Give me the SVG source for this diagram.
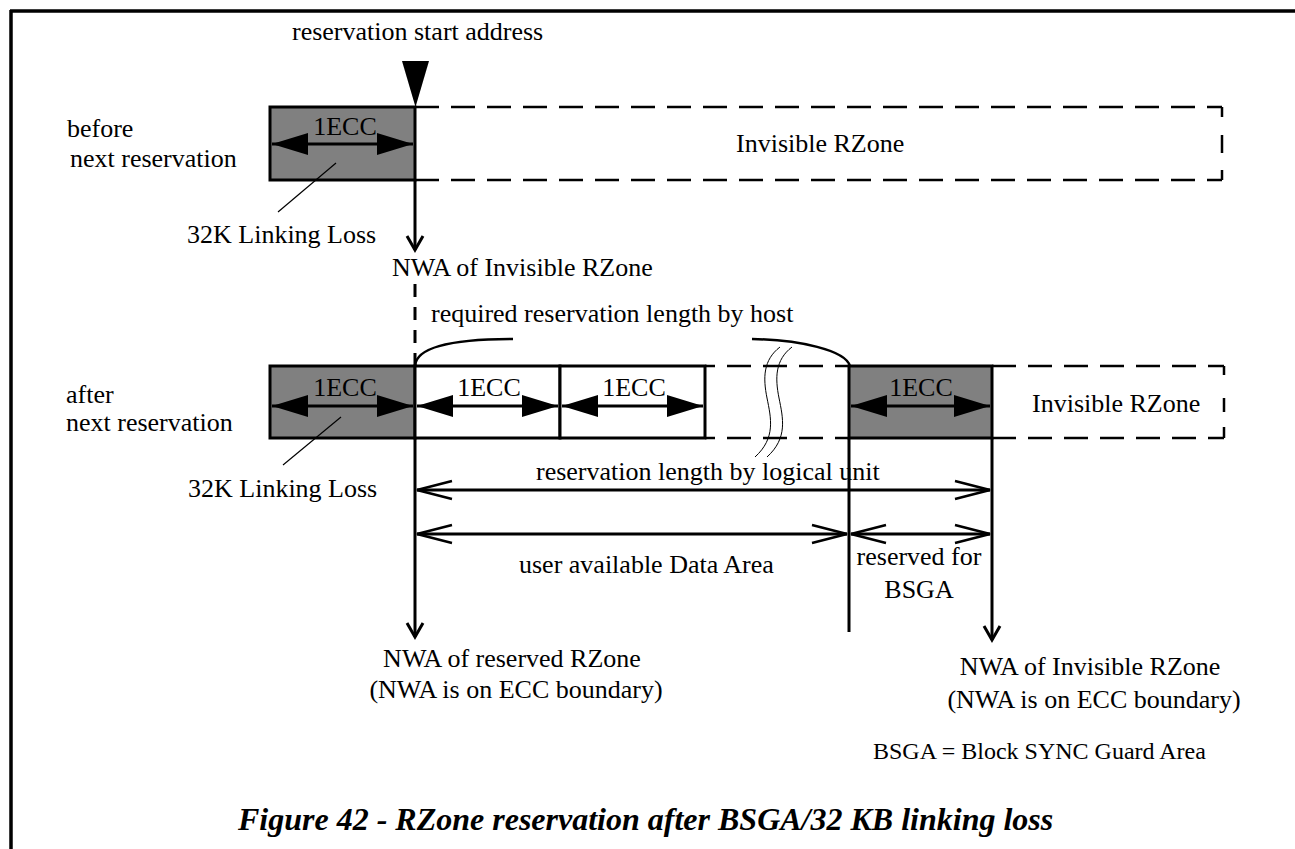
<svg xmlns="http://www.w3.org/2000/svg" width="1295" height="849" viewBox="0 0 1295 849">
<style>
text{font-family:"Liberation Serif","Times New Roman",Times,serif;font-size:26px;fill:#000}
.cap{font-size:32px;font-weight:bold;font-style:italic}
.small{font-size:24px}
.gray{fill:#808080;stroke:#000;stroke-width:3}
.white{fill:#fff;stroke:#000;stroke-width:3}
.dash{fill:none;stroke:#000;stroke-width:2.5;stroke-dasharray:24 12}
.vdash{fill:none;stroke:#000;stroke-width:3;stroke-dasharray:13 10}
.ln{fill:none;stroke:#000;stroke-width:3}
.edge{fill:none;stroke:#000;stroke-width:2.5}
.thin{fill:none;stroke:#000;stroke-width:1.2}
.ecc{fill:none;stroke:#000;stroke-width:3;marker-start:url(#fa);marker-end:url(#fa)}
.dim{fill:none;stroke:#000;stroke-width:3;marker-start:url(#oa);marker-end:url(#oa)}
.down{fill:none;stroke:#000;stroke-width:3;marker-end:url(#va)}
</style>
<defs>
<marker id="fa" markerUnits="userSpaceOnUse" viewBox="0 0 36 22" markerWidth="36" markerHeight="22" refX="36" refY="11" orient="auto-start-reverse">
<path d="M0,0 L36,11 L0,22 Z" fill="#000"/>
</marker>
<marker id="oa" markerUnits="userSpaceOnUse" viewBox="-2 -2 40 24" markerWidth="40" markerHeight="24" refX="35" refY="10" orient="auto-start-reverse" overflow="visible">
<path d="M0,1 L35,10 L0,19" fill="none" stroke="#000" stroke-width="2.5"/>
</marker>
<marker id="va" markerUnits="userSpaceOnUse" viewBox="-2 -2 18 20" markerWidth="18" markerHeight="20" refX="14" refY="8" orient="auto" overflow="visible">
<path d="M0,0 L14,8 L0,16" fill="none" stroke="#000" stroke-width="3"/>
</marker>
</defs>

<g id="frame">
<path d="M10,11 H1295 M11,10 V849" fill="none" stroke="#000" stroke-width="3.5"/>
</g>

<g id="start-marker">
<text x="292" y="40">reservation start address</text>
<polygon points="402,61 429,61 415.5,107" fill="#000"/>
</g>

<g id="row1-label">
<text x="67" y="137">before</text>
<text x="70" y="167">next reservation</text>
</g>

<g id="row1-ecc">
<rect class="gray" x="270" y="107" width="145" height="73"/>
<line class="ecc" x1="272" y1="144" x2="413" y2="144"/>
<text x="345" y="135" text-anchor="middle">1ECC</text>
</g>

<g id="row1-invisible">
<path class="dash" d="M415,107 H1222 M415,180 H1222"/>
<path class="edge" d="M1222,107 V117 M1222,135 V153 M1222,170 V180"/>
<text x="736" y="152">Invisible RZone</text>
</g>

<g id="row1-loss">
<line class="thin" x1="336" y1="163" x2="278" y2="212"/>
<text x="187" y="243">32K Linking Loss</text>
</g>

<g id="row1-nwa">
<text x="392" y="276">NWA of Invisible RZone</text>
</g>

<g id="host-length">
<text x="431" y="322">required reservation length by host</text>
<path class="ln" d="M415,366 C416,348 450,339 513,339" style="stroke-width:2.5"/>
<path class="ln" d="M752,339 C800,340 845,350 850,366" style="stroke-width:2.5"/>
</g>

<g id="row2-label">
<text x="66" y="403">after</text>
<text x="66" y="431">next reservation</text>
</g>

<g id="row2-ecc1">
<rect class="gray" x="270" y="366" width="145" height="72"/>
<line class="ecc" x1="272" y1="406" x2="413" y2="406"/>
<text x="345" y="396" text-anchor="middle">1ECC</text>
</g>

<g id="row2-ecc2">
<rect class="white" x="415" y="366" width="145" height="72"/>
<line class="ecc" x1="417" y1="406" x2="558" y2="406"/>
<text x="489" y="396" text-anchor="middle">1ECC</text>
</g>

<g id="row2-ecc3">
<rect class="white" x="560" y="366" width="145" height="72"/>
<line class="ecc" x1="562" y1="406" x2="703" y2="406"/>
<text x="634" y="396" text-anchor="middle">1ECC</text>
</g>

<g id="row2-gap">
<path class="dash" d="M705,366 H849 M705,438 H849" style="stroke-dashoffset:14"/>
<path class="thin" style="stroke-width:1" d="M780,347 C763,360 763,378 767,398 C771,418 776,438 755,457"/>
<path class="thin" style="stroke-width:1" d="M792,347 C775,360 775,378 779,398 C783,418 788,438 767,457"/>
</g>

<g id="row2-ecc4">
<rect class="gray" x="849" y="366" width="143" height="72"/>
<line class="ecc" x1="851" y1="406" x2="990" y2="406"/>
<text x="921" y="396" text-anchor="middle">1ECC</text>
</g>

<g id="row2-invisible">
<path class="dash" d="M992,366 H1224 M992,438 H1224"/>
<path class="edge" d="M1224,366 V375 M1224,398 V412 M1224,427 V438"/>
<text x="1032" y="412">Invisible RZone</text>
</g>

<g id="row2-loss">
<line class="thin" x1="341" y1="417" x2="283" y2="465"/>
<text x="188" y="497">32K Linking Loss</text>
</g>

<g id="labels">
<text x="536" y="480">reservation length by logical unit</text>
<text x="519" y="573">user available Data Area</text>
<text x="919" y="565" text-anchor="middle">reserved for</text>
<text x="919" y="598" text-anchor="middle">BSGA</text>
<text x="512" y="667" text-anchor="middle">NWA of reserved RZone</text>
<text x="516" y="698" text-anchor="middle">(NWA is on ECC boundary)</text>
<text x="1090" y="675" text-anchor="middle">NWA of Invisible RZone</text>
<text x="1094" y="708" text-anchor="middle">(NWA is on ECC boundary)</text>
<text class="small" x="873" y="759">BSGA = Block SYNC Guard Area</text>
</g>

<g id="connectors">
<line class="down" x1="415" y1="180" x2="415" y2="250"/>
<line class="vdash" x1="415" y1="284" x2="415" y2="366"/>
<line class="down" x1="415" y1="438" x2="415" y2="637"/>
<line class="ln" x1="849" y1="438" x2="849" y2="632"/>
<line class="down" x1="992" y1="438" x2="992" y2="640"/>
<line class="dim" x1="417" y1="490" x2="990" y2="490"/>
<line class="dim" x1="417" y1="534" x2="847" y2="534"/>
<line class="dim" x1="851" y1="534" x2="990" y2="534"/>
</g>

<g id="caption">
<text class="cap" x="238" y="830">Figure 42 - RZone reservation after BSGA/32 KB linking loss</text>
</g>
</svg>
